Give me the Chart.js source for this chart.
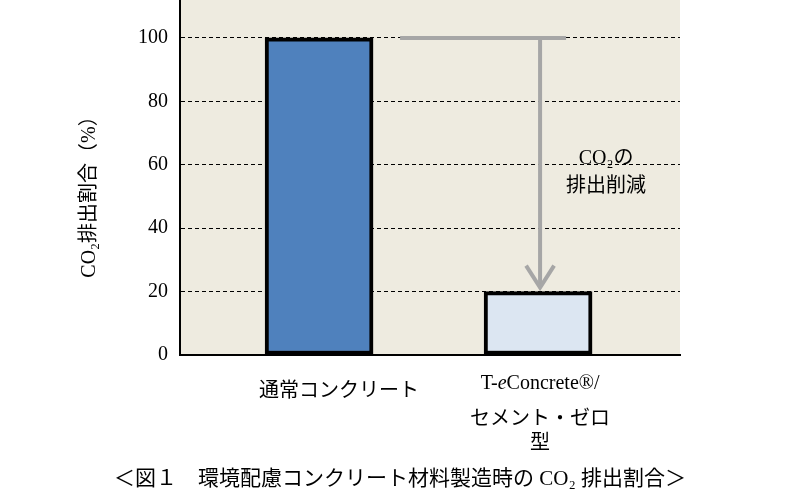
<!DOCTYPE html>
<html><head><meta charset="utf-8">
<script src="https://cdn.jsdelivr.net/npm/chart.js@4.4.0/dist/chart.umd.min.js"></script>
<style>body{margin:0;background:#fff}#wrap{width:800px;height:499px}</style>
</head><body><div id="wrap"><canvas id="c"></canvas></div>
<script>
const categories = ['通常コンクリート', 'T-eConcrete®/セメント・ゼロ型'];
const values = [100, 20];
const barColors = ['#4F81BD', '#DCE6F2'];
const yTicks = [0, 20, 40, 60, 80, 100];
const arrowNote = ['CO₂の', '排出削減'];
const caption = '＜図１　環境配慮コンクリート材料製造時の CO₂ 排出割合＞';

const jp = '"Liberation Serif", "Noto Sans CJK JP", serif';
const serif = '"Liberation Serif", "DejaVu Serif", serif';

const extras = {
  id: 'extras',
  beforeDraw(chart) {
    const { ctx, chartArea: a } = chart;
    ctx.save();
    ctx.fillStyle = '#EEEBE0';
    ctx.fillRect(a.left, 0, a.right - a.left, a.bottom);
    ctx.strokeStyle = '#000'; ctx.lineWidth = 2;
    ctx.beginPath(); ctx.moveTo(a.left, 0); ctx.lineTo(a.left, a.top + 1); ctx.stroke();
    ctx.restore();
  },
  afterDatasetsDraw(chart) {
    const { ctx, scales: { x, y } } = chart;
    ctx.save();
    // reduction arrow
    const yTop = y.getPixelForValue(values[0]);
    const yBot = y.getPixelForValue(values[1]);
    const xc = x.getPixelForValue(1) + 2;
    ctx.strokeStyle = '#A6A6A6'; ctx.lineWidth = 4;
    ctx.beginPath();
    ctx.moveTo(x.getPixelForValue(0) + 81, yTop);
    ctx.lineTo(xc + 26, yTop);
    ctx.moveTo(xc, yTop);
    ctx.lineTo(xc, yBot - 6);
    ctx.stroke();
    ctx.beginPath();
    ctx.moveTo(xc - 14, yBot - 26); ctx.lineTo(xc, yBot - 4); ctx.lineTo(xc + 14, yBot - 26);
    ctx.stroke();
    ctx.fillStyle = '#000'; ctx.textAlign = 'center'; ctx.textBaseline = 'middle';
    ctx.font = '20px ' + jp;
    ctx.fillText(arrowNote[0], xc + 66, y.getPixelForValue(62));
    ctx.fillText(arrowNote[1], xc + 66, y.getPixelForValue(53));
    // y title
    ctx.save();
    ctx.translate(90, 192); ctx.rotate(-Math.PI / 2);
    ctx.fillText('CO₂排出割合（%）', 0, 0);
    ctx.restore();
    // category labels
    ctx.fillText(categories[0], x.getPixelForValue(0) + 20, 392);
    const cx = x.getPixelForValue(1) + 2;
    ctx.font = '20px ' + serif;
    const p1 = 'T-', p2 = 'e', p3 = 'Concrete®/';
    const w1 = ctx.measureText(p1).width, w3 = ctx.measureText(p3).width;
    ctx.font = 'italic 20px ' + serif;
    const w2 = ctx.measureText(p2).width;
    const sx = cx - (w1 + w2 + w3) / 2;
    ctx.textAlign = 'left';
    ctx.font = '20px ' + serif; ctx.fillText(p1, sx, 384);
    ctx.font = 'italic 20px ' + serif; ctx.fillText(p2, sx + w1, 384);
    ctx.font = '20px ' + serif; ctx.fillText(p3, sx + w1 + w2, 384);
    ctx.textAlign = 'center';
    ctx.font = '20px ' + jp;
    ctx.fillText('セメント・ゼロ', cx, 420);
    ctx.fillText('型', cx, 444);
    ctx.font = '21px ' + jp;
    ctx.fillText(caption, 400, 479);
    ctx.restore();
  }
};

new Chart(document.getElementById('c'), {
  type: 'bar',
  data: {
    datasets: [{
      data: values.map((v, i) => ({ x: i, y: v })),
      backgroundColor: barColors,
      borderColor: '#000',
      borderWidth: 4,
      borderSkipped: false,
      barThickness: 108
    }]
  },
  options: {
    responsive: true,
    maintainAspectRatio: false,
    animation: false,
    layout: { padding: { top: 0, right: 120, left: 0, bottom: 0 } },
    plugins: { legend: { display: false }, tooltip: { enabled: false } },
    scales: {
      x: {
        type: 'linear', min: -0.635, max: 1.648, offset: false,
        ticks: { display: false },
        grid: { display: false },
        border: { color: '#000', width: 2 },
        afterFit(s) { s.height = 144; }
      },
      y: {
        min: 0, max: 104.4,
        afterBuildTicks(s) { s.ticks = yTicks.map(v => ({ value: v })); },
        ticks: { color: '#000', font: { size: 20, family: serif }, padding: 12 },
        grid: { color: '#000', lineWidth: 1, drawTicks: false },
        border: { color: '#000', width: 2, dash: [4, 3] },
        afterFit(s) { s.width = 180; }
      }
    }
  },
  plugins: [extras]
});
</script></body></html>
